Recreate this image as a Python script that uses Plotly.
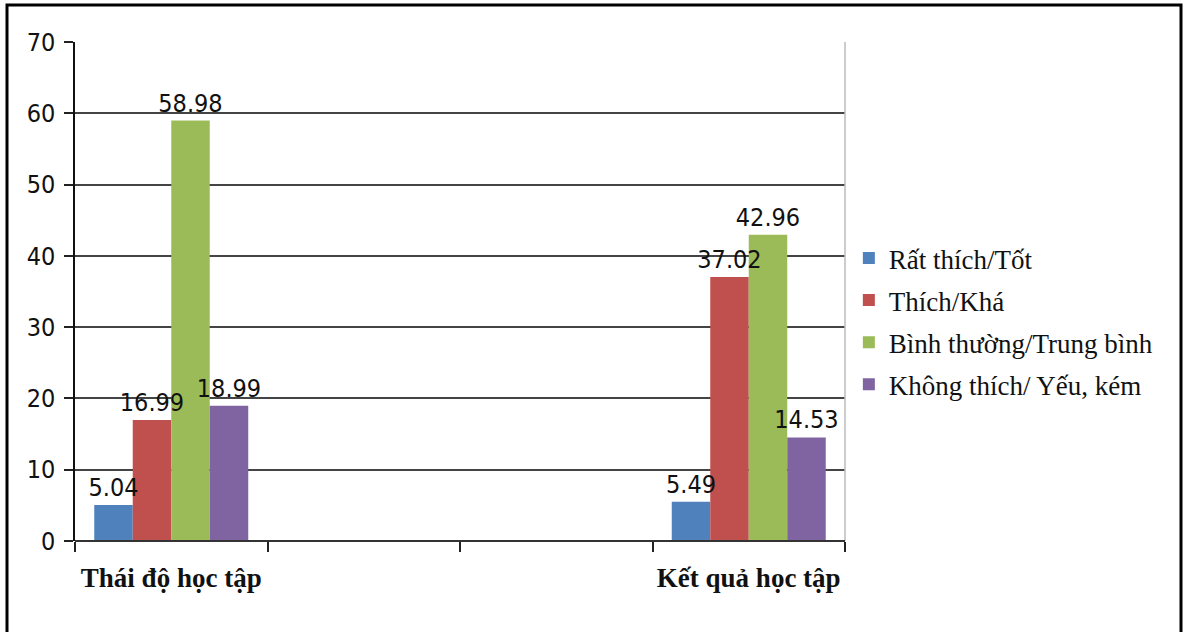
import plotly.graph_objects as go

categories = ["Thái độ học tập", "Kết quả học tập"]
slot_positions = [0.5, 3.5]          # category slots on a 4-slot axis
series_names = ["Rất thích/Tốt", "Thích/Khá", "Bình thường/Trung bình", "Không thích/ Yếu, kém"]
series_values = [
    [5.04, 5.49],
    [16.99, 37.02],
    [58.98, 42.96],
    [18.99, 14.53],
]
series_labels = [
    ["5.04", "5.49"],
    ["16.99", "37.02"],
    ["58.98", "42.96"],
    ["18.99", "14.53"],
]
colors = ["#4F81BD", "#C0504D", "#9BBB59", "#8064A2"]
y_ticks = [0, 10, 20, 30, 40, 50, 60, 70]

num_font = "DejaVu Sans Condensed, Liberation Sans Narrow, sans-serif"
serif_font = "Liberation Serif, Times New Roman, serif"

fig = go.Figure()
bar_w = 0.2
for i, (name, vals, c) in enumerate(zip(series_names, series_values, colors)):
    fig.add_trace(go.Bar(
        x=slot_positions, y=vals, name=name,
        width=bar_w, offset=-0.4 + i * bar_w,
        marker=dict(color=c, line=dict(width=0)),
        legendgroup=name,
    ))
# transparent copies carrying the value labels so they sit on top of all bars
for i, (name, vals, labs) in enumerate(zip(series_names, series_values, series_labels)):
    fig.add_trace(go.Bar(
        x=slot_positions, y=vals, name=name, showlegend=False,
        width=bar_w, offset=-0.4 + i * bar_w,
        marker=dict(color="rgba(0,0,0,0)", line=dict(width=0)),
        text=labs, textposition="outside", constraintext="none", cliponaxis=False,
        textfont=dict(family=num_font, size=25, color="#111"),
        hoverinfo="skip",
    ))

fig.add_trace(go.Scatter(x=slot_positions, y=[None, None], xaxis="x2", showlegend=False,
                         hoverinfo="skip", mode="markers"))

fig.update_layout(
    width=1184, height=632,
    margin=dict(l=75, r=339, t=42, b=91),
    paper_bgcolor="white", plot_bgcolor="white",
    barmode="overlay",
    xaxis=dict(range=[0, 4], tickvals=[0, 1, 2, 3, 4], ticktext=["", "", "", "", ""],
               ticks="outside", ticklen=10, tickwidth=2, tickcolor="#222",
               showgrid=False, zeroline=False, showline=False),
    xaxis2=dict(overlaying="x", matches="x", side="bottom", range=[0, 4],
                tickvals=slot_positions, ticktext=categories, ticks="",
                showgrid=False, zeroline=False, showline=False,
                tickfont=dict(family=serif_font, size=27, color="#111", weight="bold"),
                ticklabelstandoff=18),
    yaxis=dict(range=[0, 70], tickvals=y_ticks, ticks="outside", ticklen=9,
               tickwidth=2, tickcolor="#222",
               showgrid=True, gridcolor="#444", gridwidth=2,
               zeroline=False, showline=True, linecolor="#111", linewidth=1.5,
               tickfont=dict(family=num_font, size=25, color="#111"),
               ticklabelstandoff=4),
    legend=dict(x=1.005, y=0.44, xanchor="left", yanchor="middle",
                font=dict(family=serif_font, size=27, color="#111"),
                traceorder="grouped", tracegroupgap=4,
                itemwidth=30, bgcolor="rgba(0,0,0,0)"),
    showlegend=True,
    shapes=[
        dict(type="line", xref="paper", yref="paper", x0=1, x1=1, y0=0, y1=1,
             line=dict(color="#bbb", width=1.5)),
        dict(type="line", xref="paper", yref="paper", x0=0, x1=1, y0=0, y1=0,
             line=dict(color="#333", width=2), layer="above"),
        dict(type="rect", xref="paper", yref="paper",
             x0=-68 / 770, x1=1 + 336 / 770, y0=-95 / 499, y1=1 + 37 / 499,
             line=dict(color="black", width=3)),
    ],
)

fig.write_html("out.html")
